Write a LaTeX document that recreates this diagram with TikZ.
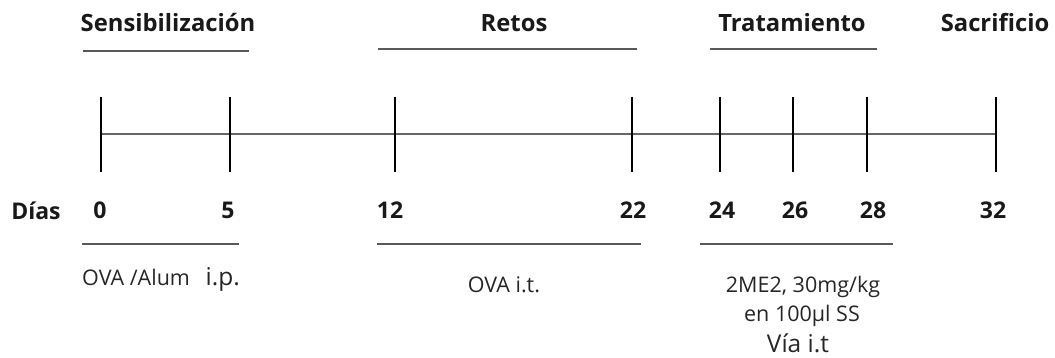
\documentclass[tikz,border=0pt]{standalone}
\usepackage{fontspec}
\setmainfont{Open Sans}
\begin{document}
\begin{tikzpicture}[x=1pt,y=-1pt,
  hdr/.style={font=\bfseries\fontsize{23.8}{28}\selectfont, anchor=base, inner sep=0pt, text=black!90},
  num/.style={font=\bfseries\fontsize{23}{27}\selectfont, anchor=base, inner sep=0pt, text=black!90},
  lbl/.style={font=\fontsize{21.5}{25}\selectfont, anchor=base, inner sep=0pt, text=black!85},
  big/.style={font=\fontsize{24.5}{28}\selectfont, anchor=base, inner sep=0pt, text=black!85},
  rule/.style={draw=black!65, line width=1.6pt},
  axis/.style={draw=black!60, line width=1.8pt},
  tickline/.style={draw=black, line width=1.3pt}]
\useasboundingbox (0,0) rectangle (1055,358);
% headers
\node[hdr] (hS) at (168,32) {Sensibilización};
\node[hdr] (hR) at (514,32) {Retos};
\node[hdr] (hT) at (792,32) {Tratamiento};
\node[hdr] (hX) at (995,32) {Sacrificio};
% header rules
\coordinate (a1) at (83,51);  \coordinate (a2) at (249,51);
\coordinate (b1) at (378,49); \coordinate (b2) at (637,49);
\coordinate (c1) at (710,49); \coordinate (c2) at (877,49);
\draw[rule] (a1) -- (a2);
\draw[rule] (b1) -- (b2);
\draw[rule] (c1) -- (c2);
% axis
\foreach \n/\x in {0/101,5/230,12/395,22/632,24/720,26/793,28/867,32/996}{
  \coordinate (t\n) at (\x,134);
  \coordinate (u\n) at (\x,97);
  \coordinate (d\n) at (\x,172);
}
\draw[axis] (t0) -- (t32);
\foreach \n in {0,5,12,22,24,26,28,32}{
  \draw[tickline] (u\n) -- (d\n);
}
% day labels
\node[num] (dias) at (36,220) {Días};
\node[num] (n0) at (100,219) {0};
\node[num] (n5) at (228,219) {5};
\node[num] (n12) at (390,219) {12};
\node[num] (n22) at (633,219) {22};
\node[num] (n24) at (722,219) {24};
\node[num] (n26) at (795,219) {26};
\node[num] (n28) at (873,219) {28};
\node[num] (n32) at (993,219) {32};
% lower rules
\coordinate (e1) at (82,244);  \coordinate (e2) at (239,244);
\coordinate (f1) at (377,244); \coordinate (f2) at (641,244);
\coordinate (g1) at (700,244); \coordinate (g2) at (893,244);
\draw[rule] (e1) -- (e2);
\draw[rule] (f1) -- (f2);
\draw[rule] (g1) -- (g2);
% lower labels
\node[lbl, anchor=base west] (ova) at (82,285) {OVA /Alum};
\node[big, anchor=base east] (ip) at (240,285) {i.p.};
\node[lbl] (ovait) at (504,292) {OVA i.t.};
\node[lbl] (me) at (803,292) {2ME2, 30mg/kg};
\node[lbl] (en) at (802,321) {en 100µl SS};
\node[big] (via) at (798,352) {Vía i.t};
\end{tikzpicture}
\end{document}
